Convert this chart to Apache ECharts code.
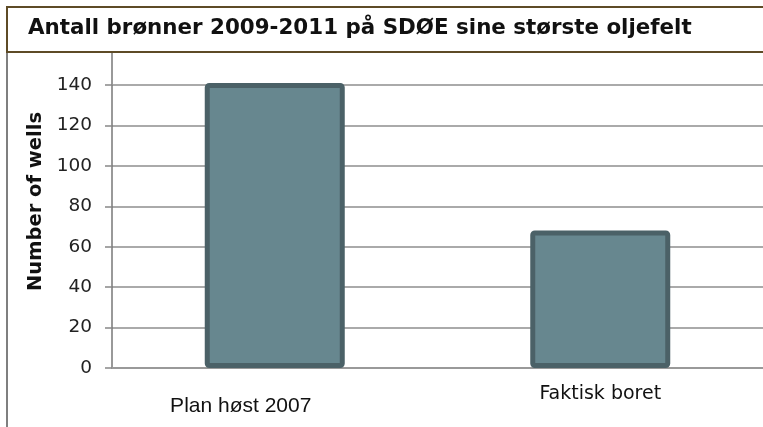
<!DOCTYPE html>
<html>
<head>
<meta charset="utf-8">
<title>Antall brønner</title>
<script src="https://cdn.jsdelivr.net/npm/echarts@6/dist/echarts.min.js"></script>
<style>
  html, body { margin: 0; padding: 0; background: #fff; }
  #chart { width: 763px; height: 427px; }
</style>
</head>
<body>
<div id="chart"></div>
<script>
const titleText = "Antall brønner 2009-2011 på SDØE sine største oljefelt";
const categories = ["Plan høst 2007", "Faktisk boret"];
const wells = [141, 68];

const chart = echarts.init(document.getElementById("chart"));

const option = {
  animation: false,
  backgroundColor: "#fff",
  graphic: [
    // title box
    {
      type: "rect",
      shape: { x: 7, y: 7, width: 800, height: 45 },
      style: { fill: "none", stroke: "#5e4b26", lineWidth: 2 },
    },
    {
      type: "line",
      shape: { x1: 7, y1: 53, x2: 7, y2: 440 },
      style: { stroke: "#555", lineWidth: 1.5 },
    },
    // y axis line above the plot
    {
      type: "line",
      shape: { x1: 112, y1: 53, x2: 112, y2: 85 },
      style: { stroke: "#777", lineWidth: 1.5 },
    },
    {
      type: "text",
      left: 28,
      top: 18,
      style: {
        text: titleText,
        font: "bold 21.4px 'DejaVu Sans'",
        fill: "#111",
      },
    },
  ],
  grid: { left: 112, right: -3, top: 85, bottom: 59 },
  xAxis: {
    type: "category",
    data: categories,
    axisLine: { lineStyle: { color: "#999", width: 2 } },
    axisTick: { length: 7, lineStyle: { color: "#777", width: 1.5 } },
    axisLabel: {
      margin: 14,
      formatter: (v, i) => (i === 0 ? "{a|" + v + "}" : "{b|" + v + "}"),
      rich: {
        a: {
          fontFamily: "Liberation Sans",
          fontSize: 21,
          lineHeight: 48,
          color: "#111",
          padding: [0, 68, 0, 0],
        },
        b: {
          fontFamily: "DejaVu Sans",
          fontSize: 19,
          lineHeight: 24,
          color: "#111",
        },
      },
    },
  },
  yAxis: {
    type: "value",
    min: 0,
    max: 140,
    interval: 20,
    name: "Number of wells",
    nameLocation: "middle",
    nameGap: 64,
    nameTextStyle: {
      fontFamily: "DejaVu Sans",
      fontWeight: "bold",
      fontSize: 19.5,
      color: "#111",
      padding: [0, 0, 0, 50],
    },
    axisLine: { show: true, lineStyle: { color: "#777", width: 1.5 } },
    axisTick: { show: true, length: 7, lineStyle: { color: "#888", width: 1.5 } },
    axisLabel: {
      margin: 20,
      fontFamily: "DejaVu Sans",
      fontSize: 18.5,
      color: "#222",
    },
    splitLine: { lineStyle: { color: "#aaa", width: 2 } },
  },
  series: [
    {
      type: "bar",
      data: wells,
      barWidth: 140,
      clip: false,
      itemStyle: {
        color: "#67878f",
        borderColor: "#4b6167",
        borderWidth: 5,
        borderRadius: 2,
      },
    },
  ],
};

chart.setOption(option);
</script>
</body>
</html>
